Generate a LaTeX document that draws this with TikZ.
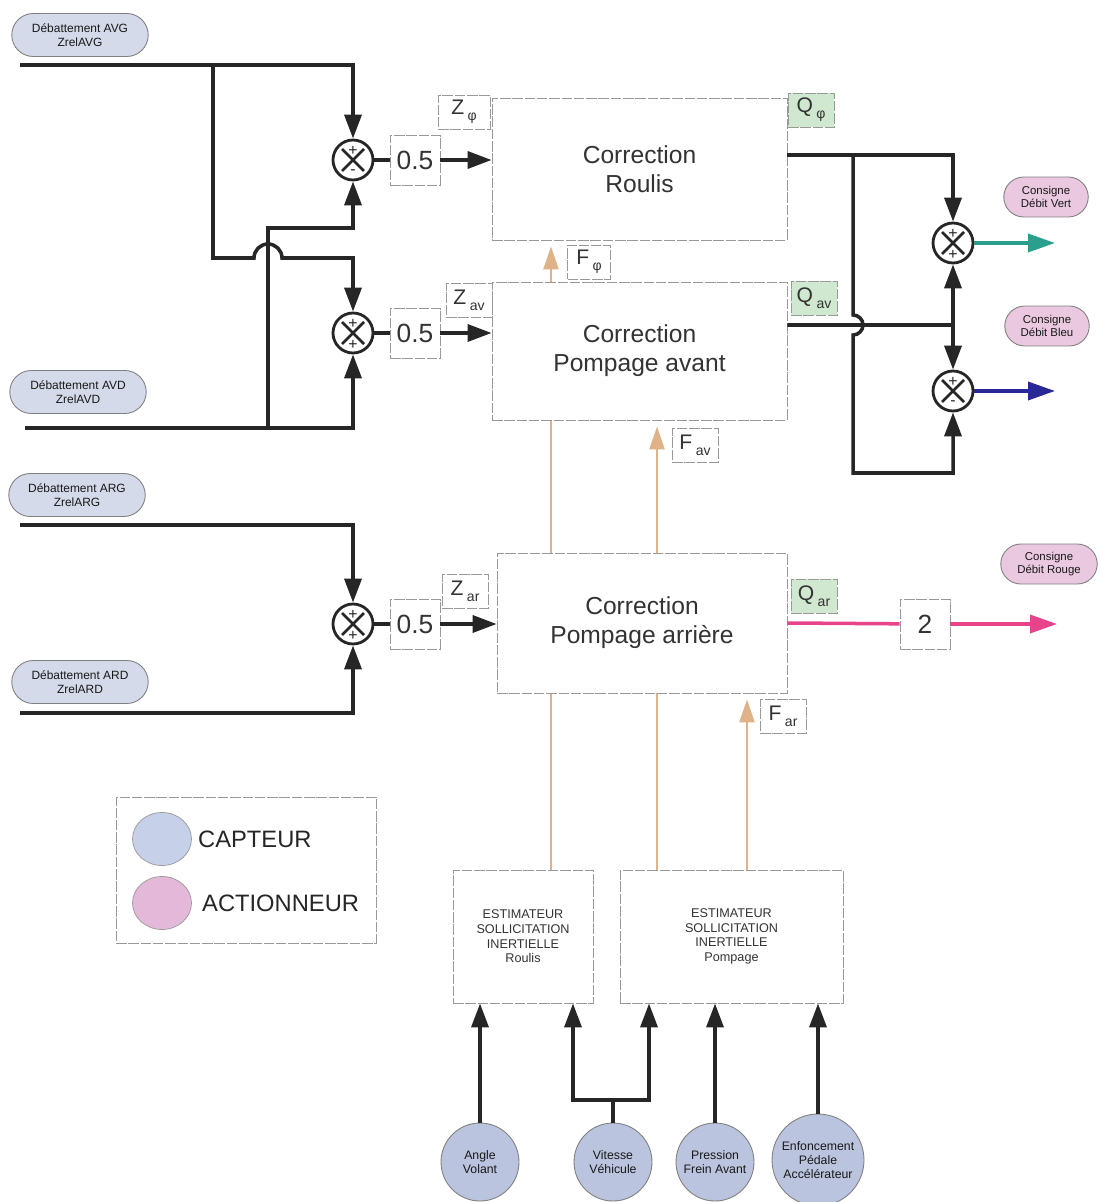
\documentclass[tikz,border=0pt]{standalone}
\usepackage{fontspec}
\setmainfont{Liberation Sans}
\usetikzlibrary{positioning, arrows.meta, shapes.misc, shapes.geometric, backgrounds}
\definecolor{capteur}{RGB}{212,218,234}
\definecolor{capteurfonce}{RGB}{186,196,222}
\definecolor{capteurleg}{RGB}{198,208,232}
\definecolor{actionneur}{RGB}{234,200,224}
\definecolor{actionleg}{RGB}{228,184,216}
\definecolor{qvert}{RGB}{208,232,208}
\definecolor{effort}{RGB}{224,178,136}
\definecolor{vert}{RGB}{42,160,140}
\definecolor{bleu}{RGB}{40,40,150}
\definecolor{rouge}{RGB}{232,68,140}
\newcommand{\lowsub}[1]{\,\raisebox{-0.55ex}{\fontsize{8}{8}\selectfont #1}}
\tikzset{
    >={Triangle[length=0.48cm,width=0.34cm]}, % big filled heads
    wire/.style={line width=2pt, draw=black!85},
    sig/.style={wire, ->},
    force/.style={line width=1.4pt, draw=effort, -{Triangle[length=0.46cm,width=0.3cm]}, shorten >=0.12cm},
    thinborder/.style={draw=black!40, line width=0.5pt, dash pattern=on 6pt off 1pt, fill=white},
    block/.style={thinborder, align=center, text=black!80, font=\fontsize{14}{16.5}\selectfont},
    estim/.style={thinborder, align=center, text=black!80, font=\fontsize{7.2}{8.3}\selectfont, minimum height=2.66cm},
    gain/.style={thinborder, minimum size=1cm, text=black!80, font=\fontsize{15}{15}\selectfont},
    tag/.style={thinborder, minimum width=0.92cm, minimum height=0.68cm, inner sep=1pt, text=black!80, font=\fontsize{12}{12}\selectfont},
    qtag/.style={tag, fill=qvert},
    sumnode/.style={circle, draw=black!85, line width=1.6pt, fill=white, minimum size=0.8cm, inner sep=0pt,
        path picture={\draw[line width=1.5pt, black!85]
            ([shift={(-0.22cm,0.22cm)}]path picture bounding box.center) -- ([shift={(0.22cm,-0.22cm)}]path picture bounding box.center)
            ([shift={(-0.22cm,-0.22cm)}]path picture bounding box.center) -- ([shift={(0.22cm,0.22cm)}]path picture bounding box.center);}},
    sgn/.style={inner sep=0pt, font=\fontsize{9}{9}\selectfont, text=black!85},
    capteurpill/.style={rounded rectangle, draw=black!50, line width=0.5pt, fill=capteur, minimum width=2.8cm, minimum height=0.86cm,
        inner sep=1pt, align=center, text=black!90, font=\fontsize{6.8}{7.6}\selectfont},
    actionpill/.style={capteurpill, fill=actionneur, minimum width=1.76cm, minimum height=0.8cm, font=\fontsize{6.5}{7.4}\selectfont},
    capteurrond/.style={circle, draw=black!50, line width=0.5pt, fill=capteurfonce, minimum size=1.56cm, inner sep=0pt,
        align=center, text=black!90, font=\fontsize{7}{8}\selectfont},
    legtext/.style={inner sep=0pt, text=black!85, font=\fontsize{13.5}{13.5}\selectfont},
}

\begin{document}
\begin{tikzpicture}[x=0.02cm, y=-0.02cm]
    \useasboundingbox (0,0) rectangle (1100,1202);

    % sensors on the left
    \node[capteurpill] (avg) at (80,35) {Débattement AVG\\ZrelAVG};
    \node[capteurpill] (avd) at (78,392) {Débattement AVD\\ZrelAVD};
    \node[capteurpill] (arg) at (77,495) {Débattement ARG\\ZrelARG};
    \node[capteurpill] (ard) at (80,682) {Débattement ARD\\ZrelARD};
    \coordinate (avgin) at (20,65);
    \coordinate (avdin) at (25,428);
    \coordinate (argin) at (20,525);
    \coordinate (ardin) at (20,713);
    \coordinate (j1) at (213,65);
    \coordinate (j2) at (268,428);

    % summing points and gains
    \node[sumnode] (s1) at (353,160) {};
    \node[sumnode] (s2) at (353,333) {};
    \node[sumnode] (s3) at (353,624) {};
    \node[gain] (g1) at (415,160) {0.5};
    \node[gain] (g2) at (415,333) {0.5};
    \node[gain] (g3) at (415,624) {0.5};

    % correction blocks
    \node[block, minimum width=5.9cm, minimum height=2.84cm] (roulis) at (639.5,169) {Correction\\Roulis};
    \node[block, minimum width=5.9cm, minimum height=2.76cm] (avant) at (639.5,351) {Correction\\Pompage avant};
    \node[block, minimum width=5.8cm, minimum height=2.8cm] (arriere) at (642,623) {Correction\\Pompage arrière};

    \node[tag, minimum width=1.04cm] (zphi) at (464,112) {Z\lowsub{φ}};
    \node[tag] (zav) at (469,300) {Z\lowsub{av}};
    \node[tag] (zar) at (465,591) {Z\lowsub{ar}};
    \node[qtag] (qphi) at (811,110) {Q\lowsub{φ}};
    \node[qtag] (qav) at (814,298) {Q\lowsub{av}};
    \node[qtag] (qar) at (814,596) {Q\lowsub{ar}};
    \node[tag, minimum width=0.86cm] (fphi) at (589,262) {F\lowsub{φ}};
    \node[tag] (fav) at (695,445) {F\lowsub{av}};
    \node[tag] (far) at (783,716) {F\lowsub{ar}};

    % outputs on the right
    \node[sumnode] (sv) at (953,243) {};
    \node[sumnode] (sb) at (953,391) {};
    \node[gain] (g4) at (925,624) {2};
    \node[actionpill] (vert) at (1046,197) {Consigne\\Débit Vert};
    \node[actionpill] (bleu) at (1047,326) {Consigne\\Débit Bleu};
    \node[actionpill, minimum width=2cm] (rouge) at (1049,564) {Consigne\\Débit Rouge};
    \coordinate (j3) at (853,155);
    \coordinate (j4) at (953,325);
    \coordinate (vertout) at (1055,243);
    \coordinate (bleuout) at (1055,391);
    \coordinate (rougeout) at (1057,624);

    \foreach \j/\up/\dn in {s1/+/-, s2/+/+, s3/+/+, sv/+/+, sb/+/-}
        \node[sgn] at ([yshift=0.18cm]\j.center) {\up} node[sgn] at ([yshift=-0.24cm]\j.center) {\dn};

    % estimators and vehicle sensors
    \node[estim, minimum width=2.8cm] (estR) at (523,936.5) {ESTIMATEUR\\SOLLICITATION\\INERTIELLE\\Roulis};
    \node[estim, minimum width=4.46cm] (estP) at (731.5,936.5) {ESTIMATEUR\\SOLLICITATION\\INERTIELLE\\Pompage};
    \node[capteurrond] (angle) at (480,1162) {Angle\\Volant};
    \node[capteurrond] (vitesse) at (613,1162) {Vitesse\\Véhicule};
    \node[capteurrond] (pression) at (715,1162) {Pression\\Frein Avant};
    \node[capteurrond, minimum size=1.84cm] (enfonc) at (818,1160) {Enfoncement\\Pédale\\Accélérateur};
    \coordinate (jv) at (613,1100);

    % legend
    \node[thinborder, minimum width=5.2cm, minimum height=2.92cm] (legende) at (246,870) {};
    \node[ellipse, draw=black!40, fill=capteurleg, minimum width=1.18cm, minimum height=1.06cm] (lcap) at (162,839) {};
    \node[ellipse, draw=black!40, fill=actionleg, minimum width=1.18cm, minimum height=1.06cm] (lact) at (162,903) {};
    \node[legtext, right=0.12cm of lcap] {CAPTEUR};
    \node[legtext, right=0.2cm of lact] {ACTIONNEUR};

    % left side wiring
    \draw[sig] (avgin) -| (s1);
    \draw[sig] (j1) |- (254,258) arc[start angle=180, end angle=0, radius=0.28cm] -| (s2);
    \draw[sig] (avdin) -| (s2);
    \draw[sig] (j2) -- (268,228) -| (s1);
    \draw[sig] (argin) -| (s3);
    \draw[sig] (ardin) -| (s3);
    \foreach \i in {1,2,3}
        \draw[wire] (s\i) -- (g\i);
    \draw[sig] (g1.east) -- (g1.east -| roulis.west);
    \draw[sig] (g2.east) -- (g2.east -| avant.west);
    \draw[sig] (g3.east) -- (g3.east -| arriere.west);

    % right side wiring
    \draw[sig] ([yshift=0.28cm]roulis.east) -| (sv);
    \draw[sig] (j3) -- (853,315) arc[start angle=90, end angle=-90, radius=0.2cm] -- (853,473) -| (sb);
    \draw[wire] ([yshift=0.52cm]avant.east) -- (j4);
    \draw[sig] (j4) -- (sv);
    \draw[sig] (j4) -- (sb);
    \draw[sig, draw=vert, -{Triangle[length=0.54cm,width=0.36cm]}] (sv) -- (vertout);
    \draw[sig, draw=bleu, -{Triangle[length=0.54cm,width=0.36cm]}] (sb) -- (bleuout);
    \draw[wire, draw=rouge] (arriere.east) -- (g4);
    \draw[sig, draw=rouge, -{Triangle[length=0.54cm,width=0.36cm]}] (g4) -- (rougeout);

    % sensors into the estimators
    \draw[sig] (angle) -- (angle |- estR.south);
    \draw[wire] (vitesse) -- (jv);
    \draw[sig] (jv) -| ([xshift=1cm]estR.south);
    \draw[sig] (jv) -| ([xshift=-1.65cm]estP.south);
    \draw[sig] (pression) -- (pression |- estP.south);
    \draw[sig] (enfonc) -- (enfonc |- estP.south);

    % inertial efforts, passing behind the blocks
    \begin{scope}[on background layer]
        \fill[white] (0,0) rectangle (1100,1202);
        \draw[force] ([xshift=0.56cm]estR.north) -- ([xshift=0.56cm]estR.north |- roulis.south);
        \draw[force] ([xshift=-1.49cm]estP.north) -- ([xshift=-1.49cm]estP.north |- avant.south);
        \draw[force] ([xshift=0.31cm]estP.north) -- ([xshift=0.31cm]estP.north |- arriere.south);
    \end{scope}
\end{tikzpicture}
\end{document}
